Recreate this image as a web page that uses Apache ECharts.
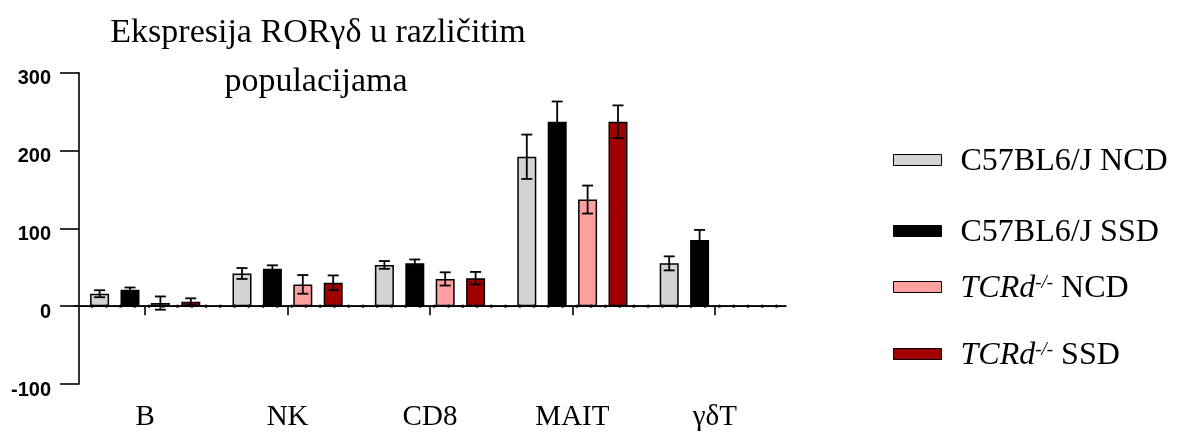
<!DOCTYPE html>
<html>
<head>
<meta charset="utf-8">
<script src="https://cdn.jsdelivr.net/npm/echarts@6/dist/echarts.min.js"></script>
<style>
html,body{margin:0;padding:0;background:#fff;}
#chart{width:1181px;height:432px;}
</style>
</head>
<body>
<div id="chart"></div>
<script>
// ---- data ----
const categories = ['B', 'NK', 'CD8', 'MAIT', 'γδT'];
const seriesNames = ['C57BL6/J NCD', 'C57BL6/J SSD', 'TCRd NCD', 'TCRd SSD'];
const c57NcdMean = [16, 42, 53, 192, 55];
const c57NcdSem  = [4.5, 7, 5, 28.5, 9];
const c57SsdMean = [21, 48, 55, 237, 85];
const c57SsdSem  = [3, 4.5, 5, 26, 13];
const tcrNcdMean = [4, 28, 35, 137, null];
const tcrNcdSem  = [8.5, 12, 8.5, 18, null];
const tcrSsdMean = [5.6, 30, 36, 237, null];
const tcrSsdSem  = [4.5, 9.5, 8, 21, null];
const yTicks = [-100, 0, 100, 200, 300];
const baselineValue = [0];

const means = [c57NcdMean, c57SsdMean, tcrNcdMean, tcrSsdMean];
const sems = [c57NcdSem, c57SsdSem, tcrNcdSem, tcrSsdSem];
const colors = ['#d3d3d3', '#000000', '#ffa0a0', '#a00000'];

const SERIF = '"Liberation Serif", "Times New Roman", serif';
const BAR_W = 19;
const BAR_GAP = 0.6;

const chart = echarts.init(document.getElementById('chart'), null, {renderer: 'canvas'});

const series = [];
means.forEach((m, s) => {
  series.push({
    type: 'bar',
    name: seriesNames[s],
    data: m,
    barWidth: BAR_W,
    barGap: (BAR_GAP * 100) + '%',
    itemStyle: {color: colors[s], borderColor: '#000', borderWidth: 1.5},
    z: 2
  });
});
// error bars
means.forEach((m, s) => {
  const d = [];
  m.forEach((v, i) => { if (v !== null) d.push([i, v, sems[s][i]]); });
  series.push({
    type: 'custom',
    name: seriesNames[s] + ' err',
    data: d,
    z: 5,
    silent: true,
    renderItem: function (params, api) {
      const ci = api.value(0), mv = api.value(1), e = api.value(2);
      const step = BAR_W * (1 + BAR_GAP);
      const off = (s - 1.5) * step;
      const top = api.coord([ci, mv + e]);
      const bot = api.coord([ci, mv - e]);
      const x = top[0] + off;
      const hw = 5.5;
      const st = {stroke: '#000', lineWidth: 1.8};
      return {type: 'group', children: [
        {type: 'line', shape: {x1: x, y1: top[1], x2: x, y2: bot[1]}, style: st},
        {type: 'line', shape: {x1: x - hw, y1: top[1], x2: x + hw, y2: top[1]}, style: st},
        {type: 'line', shape: {x1: x - hw, y1: bot[1], x2: x + hw, y2: bot[1]}, style: st}
      ]};
    }
  });
});
// zero baseline with dots
series.push({
  type: 'custom',
  name: 'baseline',
  data: baselineValue.map(v => [0, v]),
  z: 6,
  silent: true,
  renderItem: function (params, api) {
    const cs = params.coordSys;
    const y = api.coord([0, api.value(1)])[1];
    const x0 = cs.x + 5, x1 = cs.x + cs.width;
    return {type: 'group', children: [
      {type: 'line', shape: {x1: x0, y1: y, x2: x1, y2: y}, style: {stroke: '#000', lineWidth: 1.6}},
      {type: 'line', shape: {x1: x0 + 13, y1: y, x2: x1, y2: y},
       style: {stroke: '#000', lineWidth: 3.2, lineDash: [0.01, 14.25], lineCap: 'round'}}
    ]};
  }
});

const legendCenters = [160, 231, 287, 354];
const legendRich = {
  n: {fontFamily: SERIF, fontSize: 32, color: '#000', lineHeight: 40},
  i: {fontFamily: SERIF, fontSize: 32, fontStyle: 'italic', color: '#000', lineHeight: 40},
  s: {fontFamily: SERIF, fontSize: 19, fontStyle: 'italic', color: '#000', lineHeight: 19, verticalAlign: 'top', padding: [4, 0, 0, 0]}
};
const legends = seriesNames.map((nm, k) => ({
  data: [nm],
  left: 893,
  top: legendCenters[k] - 22,
  padding: 0,
  orient: 'vertical',
  icon: 'rect',
  itemWidth: 48,
  itemHeight: 11,
  selectedMode: false,
  itemStyle: {borderColor: '#000', borderWidth: 1},
  textStyle: {fontFamily: SERIF, fontSize: 32, color: '#000', lineHeight: 40, padding: [4, 0, 0, 14], rich: legendRich},
  formatter: function (name) {
    if (name.indexOf('TCRd') === 0) {
      return '{i|TCRd}{s|-/-}{n| ' + name.slice(5) + '}';
    }
    return '{n|' + name + '}';
  }
}));

const option = {
  animation: false,
  backgroundColor: '#fff',
  title: [
    {text: 'Ekspresija RORγδ u različitim', left: 318, top: 16, padding: 0, textAlign: 'center',
     textStyle: {fontFamily: SERIF, fontSize: 34, fontWeight: 'normal', color: '#000'}},
    {text: 'populacijama', left: 316, top: 65, padding: 0, textAlign: 'center',
     textStyle: {fontFamily: SERIF, fontSize: 34, fontWeight: 'normal', color: '#000'}}
  ],
  legend: legends,
  grid: {left: 74, width: 712, top: 72.7, bottom: 432 - 385, containLabel: false},
  xAxis: {
    type: 'category',
    data: categories,
    axisLine: {show: true, lineStyle: {color: '#000', width: 1.6}},
    axisTick: {show: true, alignWithLabel: true, length: 9, lineStyle: {color: '#000', width: 1.6}},
    axisLabel: {fontFamily: SERIF, fontSize: 29, color: '#000', margin: 19},
    splitLine: {show: false}
  },
  yAxis: {
    type: 'value',
    min: yTicks[0],
    max: yTicks[yTicks.length - 1],
    interval: 100,
    offset: -5,
    axisLine: {show: true, lineStyle: {color: '#000', width: 1.6}},
    axisTick: {show: true, length: 19, lineStyle: {color: '#000', width: 1.6}},
    axisLabel: {fontFamily: '"Liberation Sans", Arial, sans-serif', fontWeight: 'bold', fontSize: 20, color: '#000', margin: 28, verticalAlign: 'top', lineHeight: 12},
    splitLine: {show: false}
  },
  series: series
};
chart.setOption(option);
</script>
</body>
</html>
